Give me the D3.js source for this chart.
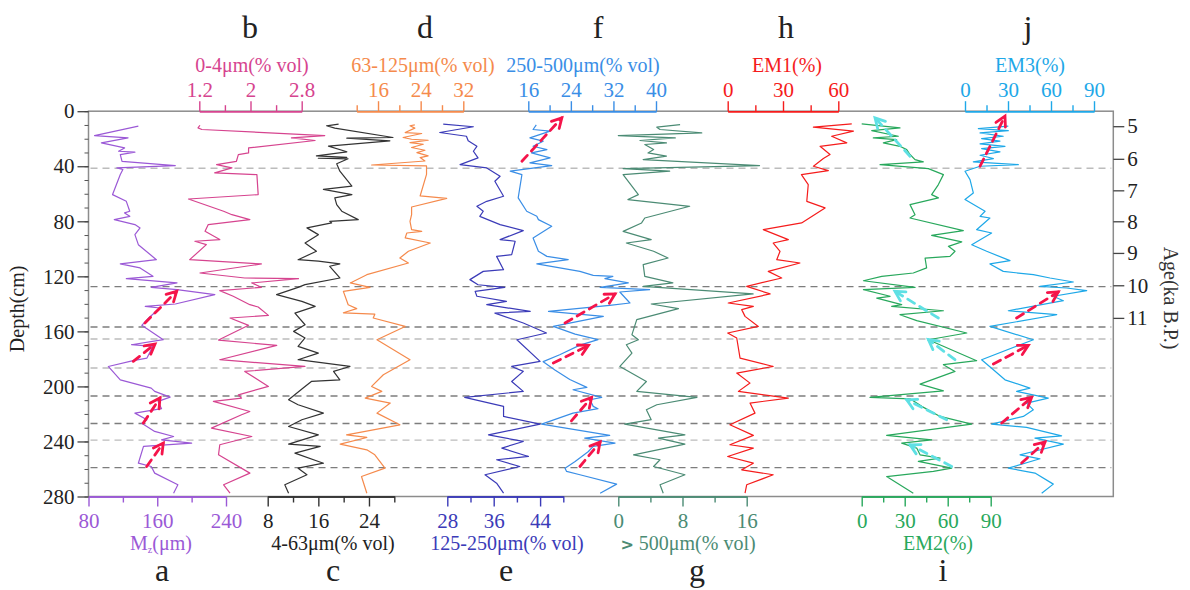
<!DOCTYPE html>
<html>
<head>
<meta charset="utf-8">
<script src="https://cdn.jsdelivr.net/npm/d3@7"></script>
<style>
  body { margin: 0; background: #fff; }
  text { font-family: "Liberation Serif", serif; }
</style>
</head>
<body>
<svg id="chart"></svg>
<script>
// depth axis / age axis
const depthTicks = [0, 40, 80, 120, 160, 200, 240, 280];
const depthMinor = d3.range(0, 281, 10);
const ageLabels = [5, 6, 7, 8, 9, 10, 11];
const ageDepths = [10.9, 34.6, 57.5, 80, 103, 126.5, 150.2];

// horizontal boundary lines (cm)
const boundaryDepths = [41.5, 127.5, 156.8, 165.5, 186.6, 207, 227, 239, 259];
const boundaryDark = [false, true, true, false, false, true, true, false, true];

// series as [depth(cm), value]
const mzData = [[10.9,138],[17.7,87],[19.4,126],[23,95],[26.7,122],[29.1,115],[29.8,134],[31.5,117],[36.4,119],[39.5,181],[41.2,113],[42.4,120],[46,117],[60.6,108],[65.5,124],[72.7,128],[73.9,122],[76.4,128],[78.8,110],[82.4,134],[84.8,140],[89.7,134],[97,138],[107.9,159],[111,117],[113.9,140],[120,155],[121.7,124],[124.8,183],[128,153],[129.7,183],[133.3,227],[140.1,181],[141.8,146],[143,163],[150.3,150],[155.6,142],[166,167],[169.7,130],[170.9,155],[179.4,148],[181.3,132],[185.5,103],[195.2,117],[201.2,153],[203.6,157],[207.8,175],[210.9,161],[216.2,165],[219.4,134],[224.2,148],[226.7,142],[232.7,157],[236.4,179],[238.8,165],[241.2,200],[243.6,144],[255.8,138],[258.2,153],[263,157],[271.5,184],[277.6,179]];

const clayData = [[10.2,1.21],[12.1,1.18],[13.3,1.24],[17.7,3.16],[19.4,2.64],[21.3,3.01],[26.7,1.97],[30.3,1.97],[31.5,1.81],[36.4,1.78],[38.8,1.47],[41.2,1.71],[44.8,1.44],[46.1,2.10],[60.6,2.12],[63.8,1.03],[72.7,1.58],[75.2,1.71],[78.8,1.99],[82.4,1.34],[87.3,1.29],[93.3,1.52],[94.5,1.13],[97,1.31],[107.9,1.05],[111,2.17],[117.6,1.21],[121.2,1.91],[121.7,2.75],[124.8,2.02],[128,2.17],[130.4,1.52],[134.5,1.73],[140.6,1.99],[142.3,2.12],[148.4,2.28],[150.3,1.68],[155.6,1.97],[166.3,1.50],[170.2,2.41],[180.6,1.52],[185.5,2.85],[189.1,1.91],[200,2.28],[206.1,1.81],[208.5,1.86],[210.9,1.42],[218.2,1.99],[220.6,1.86],[230.3,1.39],[236.4,2.02],[242.4,1.52],[249.7,1.50],[263,1.99],[271.5,1.58],[277.6,1.68]];

const siltData = [[9.4,19.2],[10.6,17.3],[12.3,18.6],[19.1,27.8],[19.6,20.5],[21.5,27.3],[25.4,17.6],[29.5,20.5],[32.5,15.7],[33.5,20.5],[34.2,16.0],[34.6,20.7],[38.2,18.9],[43.6,19.4],[54.4,21.3],[56.8,16.8],[60.6,21.3],[63,18.6],[67.9,18.9],[72.7,19.7],[78.8,22.3],[80,17.8],[81.2,18.1],[84.8,14.2],[89.7,16],[95.8,13.9],[101.8,15.7],[107.9,12.8],[109,16],[111,19.4],[112.7,17.8],[121.2,19.4],[126,13.9],[128,12.8],[133.3,9.4],[138.2,13.4],[141.8,15.5],[146.7,12.3],[155.2,13.9],[160,12.1],[164.8,13.9],[170.9,12.8],[175.8,16],[180.6,12.8],[185.5,21],[189.1,18.4],[195.2,19.4],[196.4,14.9],[201.2,13.6],[209.7,11.3],[213.3,12.8],[219.4,16.8],[224.2,13.4],[229.1,11.3],[235.2,16],[241.9,11.3],[243.6,16.3],[248.5,12.3],[255.8,16.8],[259.4,12.8],[264.2,14.2],[271.5,10.7],[277.6,11.3]];

const vfSandData = [[9.9,22.9],[10.6,22.0],[12.3,22.9],[15.5,21.1],[16.2,24.2],[19.1,20.7],[20.4,22.3],[21.1,25.4],[22.8,22.0],[24,24.5],[26.4,22.3],[28.4,24.8],[30.1,23.3],[32.5,25.4],[33.7,23.9],[36.2,24.8],[39.1,14.8],[39.8,25.1],[45.9,25.1],[61.6,23.9],[63.3,28.9],[69.6,22.3],[75.2,22.3],[80,22],[86.1,22.3],[87.3,24.2],[88.5,21.4],[92.1,21.1],[95.8,25.8],[101.8,21.7],[106.7,20.1],[110.3,21.7],[118.8,13.9],[124.8,10.8],[128,14.5],[130.9,9.5],[140.6,10.4],[143.5,12],[146.5,9.5],[147.5,15.4],[150.3,15.1],[156.4,21.1],[166.1,15.8],[180.6,22],[191.5,17],[200,14.8],[203.6,16.7],[208.5,13.6],[212.1,18.3],[219.4,15.8],[227.9,20.1],[235.2,10.1],[237.1,13.9],[241.9,8.9],[246.1,13.9],[249.7,15.4],[259.4,17.3],[265.5,12.9],[277.6,13.9]];

const fSandData = [[9.4,27.3],[11.3,32.5],[15.5,26.7],[18.2,31.3],[21.5,31.6],[25.5,33.1],[29.1,32.5],[33.9,33.3],[38.8,30.2],[41.2,34.8],[47.3,37.1],[50.9,36.2],[61.8,37.7],[65.5,34.8],[69.1,33.1],[72.7,34.2],[76.4,33.6],[82.4,37.1],[86.8,41.1],[93.3,37.1],[94.5,39.7],[104.2,39.1],[105.5,36.5],[115.2,37.7],[116.4,34.2],[122.4,31.9],[126.1,33.3],[128,37.9],[130.9,32.8],[134.5,33.1],[138.2,38.2],[140.6,34.8],[145.5,42.3],[146.7,36.2],[153.9,41.1],[161.2,45.1],[166.1,40],[181.8,44],[185.5,39.1],[189.1,41.1],[196.4,39.1],[203.6,41.1],[208,31],[214.5,37.7],[221.8,37.7],[227.4,44],[235.2,35.1],[240,41.1],[244.8,37.4],[250.9,42],[253.3,36.5],[258.2,40.5],[264.2,34.5],[270.3,36.5],[277.6,37.7]];

const mSandData = [[10,17.5],[13.3,16.9],[14.5,20.1],[19.4,16.3],[21.8,18.8],[25.5,16.9],[27.9,19.5],[30.3,16.6],[33.9,20.1],[37.6,16.3],[39.5,20.4],[43.6,12.6],[46.1,14.8],[63,14.1],[72.7,15.7],[76.4,17.6],[78.8,17.9],[83.6,20.4],[92.1,16.9],[101.8,17.9],[105.5,19.5],[107.9,23.5],[111,17.6],[116.4,25.7],[119.3,28.2],[120,31.9],[121.7,30.4],[124.8,34.8],[128,29.5],[129.7,38.8],[131.4,33.2],[139.4,35.1],[141.1,31.3],[145.5,19.8],[149.1,30.1],[156.4,20.7],[162,24.8],[166,29.1],[170,25.7],[177,21.9],[182,18.8],[188,21],[195,23.8],[200.7,27],[202.4,24.4],[208,29.8],[209.7,27.6],[214.5,28.2],[216.2,29.1],[219.4,24.4],[227.4,18.5],[235.6,31.3],[237.6,26.6],[241.2,32.3],[243.6,28.2],[247.3,27.3],[254.5,24.8],[259.4,22.9],[261.8,23.2],[264.2,25.7],[271,32.6],[277.6,29.5]];

const coarseData = [[9.7,7.7],[11.6,4.8],[13.3,5.2],[15.8,10.4],[17.7,0],[19.4,7.1],[21.3,2.7],[23,6],[24.2,3.3],[27.9,4.4],[30.3,3.7],[32.7,6],[35.2,3.1],[39.5,17.6],[41.7,0.6],[43.6,6.4],[46.1,0.6],[60.6,2.5],[64.2,1.2],[69.1,8.9],[77.6,3.3],[81.2,2.9],[87.3,0.6],[93.3,4.1],[95.8,1],[101.8,4.4],[106.7,6.2],[111.5,3.1],[120,3.3],[124.8,6.8],[127.3,3.1],[132.8,16.8],[140.1,4.1],[143.5,7.5],[151.5,2.3],[162.4,1.7],[166.1,2.5],[169.7,1],[175.8,1.7],[185.5,0.2],[196.4,3.5],[203.6,2.3],[208,9.8],[213.3,4.8],[217,3.5],[224.2,4.1],[227.4,0.8],[235.2,8.3],[237.6,5],[241.9,8.3],[249.7,1.9],[253.3,5.2],[258.2,4.4],[264.2,8.3],[271.5,5.2],[277.6,5.6]];

const em1Data = [[9.2,67.3],[11.6,46.5],[14.5,68.2],[18.2,56.4],[23,64.6],[25.5,50.1],[31.5,55.5],[34.4,51.9],[40,46.5],[43.2,54.6],[46.1,40],[53.3,43.7],[65.5,42.9],[70.3,52.8],[81.2,40.1],[86.1,19.3],[93.3,32.9],[95.8,24.7],[101.8,28.4],[107.9,26.6],[110.3,39.2],[116.4,22],[121.2,29.3],[127.3,10.3],[132.8,23],[139.4,0.3],[141.8,13.9],[144.2,7.6],[149.1,9.4],[156.4,16.6],[161.2,0],[164.8,4.9],[179.4,6.7],[185.5,24.7],[190.3,4.9],[197.6,12.1],[203.6,5.8],[208.5,32.9],[212.1,12.1],[219.4,14.8],[227.9,1.2],[235.6,13.9],[242.4,1.2],[244.8,13.9],[250.9,0],[255.8,13.9],[260.6,7.6],[264.2,24.7],[271.5,10.3],[277.6,9.4]];

const em2Data = [[9.2,0],[12.1,26.7],[14.1,7],[18.2,25.6],[19.4,8.1],[20.6,24.4],[23,15.1],[25.5,26.7],[27.9,31.4],[31.5,33.7],[35.2,37.2],[36.8,43],[38.8,12.8],[41.7,46.5],[46.1,57],[53.3,53.5],[60.6,48.8],[63,53.5],[67.9,33.7],[75.2,37.2],[77.6,33.7],[86.8,70.9],[90.2,48.8],[95,69.8],[98.2,60.5],[101.8,65.1],[105.5,61.6],[106.7,44.2],[113.9,45.3],[117.6,36],[120,14],[123.2,1.2],[128,37.2],[129.7,1.2],[134.5,19.8],[135.8,10.5],[140.6,27.9],[141.8,20.9],[145,57],[147.9,26.7],[152.2,38.4],[161.2,73.3],[166.1,46.5],[181.3,80.2],[184.2,57],[189.1,65.1],[198.3,40.7],[203.2,57],[208,5.8],[209,33.7],[214.5,41.9],[221.8,54.7],[227.4,76.7],[235.6,17.4],[238.8,48.8],[241.2,27.9],[244.8,38.4],[249.7,40.7],[252.1,54.7],[254.5,39.5],[259.4,62.8],[261.8,50],[265.5,17.4],[277.6,36]];

const em3Data = [[10.9,30.2],[12.6,9.3],[14.1,30.2],[15.8,10.5],[18.2,26.7],[19.9,11.6],[21.8,24.4],[23.8,10.5],[25.5,27.9],[27.2,11.6],[29.6,24.4],[32,10.5],[34.4,19.8],[36.8,5.8],[38.8,37.2],[40,10.5],[43.6,0],[49.7,3.5],[59.4,5.8],[64.2,0],[72.7,14],[76.4,10.5],[77.6,17.4],[86.1,8.1],[88.5,18.6],[97,4.7],[101.8,15.1],[108.6,31.4],[111,17.4],[116.4,26.7],[118.8,47.7],[121.2,59.3],[124.1,75.6],[127.3,52.3],[128.5,70.9],[130.4,84.9],[134.5,61.6],[137.7,68.6],[145,30.2],[147.9,64],[156.4,17.4],[166.1,47.7],[180.6,11.6],[187.9,19.8],[195.2,27.9],[201.2,45.3],[203.6,36],[208.5,58.1],[212.1,43],[217,47.7],[221.8,40.7],[227.4,18.6],[229.8,43],[235.9,67.4],[237.6,48.8],[241.9,68.6],[247.3,47.7],[249.7,38.4],[252.6,52.3],[259.4,30.2],[263,48.8],[271,61.6],[277.6,53.5]];

// tick values per panel (major = labelled, minor = short unlabelled)
const mzTicks = [80, 160, 240],      mzMinor = [120, 200];
const clayTicks = [1.2, 2, 2.8],     clayMinor = [1.6, 2.4];
const siltTicks = [8, 16, 24],       siltMinor = [12, 20, 28];
const vfTicks = [16, 24, 32],        vfMinor = [12, 20, 28];
const fTicks = [28, 36, 44],         fMinor = [32, 40, 48];
const mTicks = [16, 24, 32, 40],     mMinor = [20, 28, 36];
const coarseTicks = [0, 8, 16],      coarseMinor = [4, 12];
const em1Ticks = [0, 30, 60],        em1Minor = [15, 45];
const em2Ticks = [0, 30, 60, 90],    em2Minor = [15, 45, 75];
const em3Ticks = [0, 30, 60, 90],    em3Minor = [15, 45, 75];

// trend arrows: [panel, fromDepth, fromValue, toDepth, toValue]
const redArrows = [
  ['a', 153.9, 145.7, 130.9, 182.6], ['a', 181.8, 132.1, 169.2, 157.4],
  ['a', 226.6, 143.8, 208.4, 163.2], ['a', 258.2, 147.7, 241.2, 167],
  ['f', 36.4, 14.8, 4.8, 22.3], ['f', 153.9, 22.9, 132.8, 32.3],
  ['f', 183, 20.7, 170.2, 27.3], ['f', 225, 24.1, 208, 27.9],
  ['f', 258.2, 25.7, 240.4, 29.5],
  ['j', 40, 10.5, 3.6, 27.9], ['j', 150.3, 36, 131.3, 65.1],
  ['j', 183.7, 19.8, 170.2, 44.2], ['j', 226.6, 25.6, 208, 46.5],
  ['j', 255.7, 39.5, 240.4, 55.8]
];
const cyanArrows = [
  ['i', 32.7, 33.7, 4.8, 9.3], ['i', 150.3, 53.5, 130.9, 23.2],
  ['i', 180.6, 65.1, 166, 46.5], ['i', 224.2, 59.3, 209.7, 31.4],
  ['i', 258.2, 62.8, 242.4, 33.7]
];

const W = 1190, H = 590;
const plot = { left: 88.5, right: 1113.3, top: 111.2, bottom: 496.5 };
const serif = '"Liberation Serif", serif';

const panels = [
  { key: 'a', data: mzData, domain: [80, 240], range: [88.5, 226], side: 'bottom', major: mzTicks, minor: mzMinor, color: '#9b59d6', title: 'Mz', titleX: 161, letterX: 162 },
  { key: 'b', data: clayData, domain: [1.2, 2.8], range: [199.3, 301.7], side: 'top', major: clayTicks, minor: clayMinor, color: '#d6448f', title: '0-4μm(% vol)', titleX: 252, letterX: 250 },
  { key: 'c', data: siltData, domain: [8, 28], range: [267.7, 394.3], side: 'bottom', major: siltTicks, minor: siltMinor, color: '#333333', labelColor: '#222', title: '4-63μm(% vol)', titleX: 333, letterX: 333 },
  { key: 'd', data: vfSandData, domain: [12, 32], range: [356.7, 463.3], side: 'top', major: vfTicks, minor: vfMinor, color: '#f58a4c', title: '63-125μm(% vol)', titleX: 423, letterX: 425 },
  { key: 'e', data: fSandData, domain: [28, 48], range: [447.3, 563.3], side: 'bottom', major: fTicks, minor: fMinor, color: '#3b3bb8', title: '125-250μm(% vol)', titleX: 507, letterX: 506 },
  { key: 'f', data: mSandData, domain: [16, 40], range: [528.3, 656], side: 'top', major: mTicks, minor: mMinor, color: '#3a8ee6', title: '250-500μm(% vol)', titleX: 583, letterX: 598 },
  { key: 'g', data: coarseData, domain: [0, 16], range: [618.3, 746.7], side: 'bottom', major: coarseTicks, minor: coarseMinor, color: '#4b8b74', title: '> 500μm(% vol)', titleX: 688, letterX: 697 },
  { key: 'h', data: em1Data, domain: [0, 60], range: [727.7, 838.3], side: 'top', major: em1Ticks, minor: em1Minor, color: '#f51c1c', title: 'EM1(%)', titleX: 787, letterX: 786 },
  { key: 'i', data: em2Data, domain: [0, 90], range: [861.7, 990.7], side: 'bottom', major: em2Ticks, minor: em2Minor, color: '#28a85c', title: 'EM2(%)', titleX: 938, letterX: 943 },
  { key: 'j', data: em3Data, domain: [0, 90], range: [965, 1094], side: 'top', major: em3Ticks, minor: em3Minor, color: '#1ea8e8', title: 'EM3(%)', titleX: 1030, letterX: 1028 }
];
panels.forEach(p => { p.x = d3.scaleLinear().domain(p.domain).range(p.range); });
const panelByKey = Object.fromEntries(panels.map(p => [p.key, p]));

const svg = d3.select('#chart').attr('width', W).attr('height', H);
svg.append('rect').attr('width', W).attr('height', H).attr('fill', '#fff');

const y = d3.scaleLinear().domain([0, 280]).range([plot.top, plot.bottom]);

// frame
svg.append('rect')
  .attr('x', plot.left).attr('y', plot.top)
  .attr('width', plot.right - plot.left).attr('height', plot.bottom - plot.top)
  .attr('fill', 'none').attr('stroke', '#8c8c8c').attr('stroke-width', 1.5);

// boundary lines
svg.append('g').selectAll('line')
  .data(boundaryDepths)
  .join('line')
  .attr('x1', plot.left + 2).attr('x2', plot.right - 2)
  .attr('y1', d => y(d)).attr('y2', d => y(d))
  .attr('stroke', (d, i) => boundaryDark[i] ? '#7d7d7d' : '#bcbcbc')
  .attr('stroke-width', 1.4)
  .attr('stroke-dasharray', '7,5');

// curves
const line = d3.line();
panels.forEach(p => {
  svg.append('path')
    .datum(p.data)
    .attr('fill', 'none')
    .attr('stroke', p.color)
    .attr('stroke-width', 1.2)
    .attr('stroke-linejoin', 'round')
    .attr('d', line.x(d => p.x(d[1])).y(d => y(d[0])));
});

// trend arrows
function drawArrows(list, color) {
  const g = svg.append('g').attr('stroke', color).attr('fill', 'none')
    .attr('stroke-width', 2.8).attr('stroke-linecap', 'round');
  list.forEach(([k, d1, v1, d2, v2]) => {
    const p = panelByKey[k];
    const x1 = p.x(v1), y1 = y(d1), x2 = p.x(v2), y2 = y(d2);
    g.append('line').attr('x1', x1).attr('y1', y1).attr('x2', x2).attr('y2', y2)
      .attr('stroke-dasharray', '8,6');
    const a = Math.atan2(y2 - y1, x2 - x1), L = 11;
    const h1 = [x2 - L * Math.cos(a - 0.5), y2 - L * Math.sin(a - 0.5)];
    const h2 = [x2 - L * Math.cos(a + 0.5), y2 - L * Math.sin(a + 0.5)];
    g.append('path').attr('d', `M${h1[0]},${h1[1]}L${x2},${y2}L${h2[0]},${h2[1]}`)
      .attr('stroke-linejoin', 'miter');
  });
}
drawArrows(cyanArrows, '#5fe0e4');
drawArrows(redArrows, '#f5144a');

// panel axes
function styleAxis(g, color, labelColor) {
  g.attr('font-family', serif).attr('font-size', 21);
  g.select('.domain').attr('stroke', color).attr('stroke-width', 1.6);
  g.selectAll('.tick line').attr('stroke', color).attr('stroke-width', 1.4);
  g.selectAll('.tick text').attr('fill', labelColor || color).attr('font-family', serif);
}
panels.forEach(p => {
  const top = p.side === 'top';
  const ypos = top ? plot.top : plot.bottom;
  const mk = top ? d3.axisTop : d3.axisBottom;
  const gMinor = svg.append('g').attr('transform', `translate(0,${ypos})`)
    .call(mk(p.x).tickValues(p.minor).tickSize(6).tickSizeOuter(0).tickFormat(''));
  styleAxis(gMinor, p.color);
  const gMajor = svg.append('g').attr('transform', `translate(0,${ypos})`)
    .call(mk(p.x).tickValues(p.major).tickSize(10).tickSizeOuter(0)
      .tickPadding(top ? 4 : 7).tickFormat(d => String(d)));
  styleAxis(gMajor, p.color, p.labelColor);

  const title = svg.append('text')
    .attr('x', p.titleX).attr('y', top ? 72 : 550)
    .attr('text-anchor', 'middle').attr('font-size', 20).attr('font-family', serif)
    .attr('fill', p.labelColor || p.color);
  if (p.key === 'a') {
    title.append('tspan').text('M');
    title.append('tspan').attr('font-size', 10).attr('dy', 3).text('z');
    title.append('tspan').attr('dy', -3).text('(μm)');
  } else if (p.key === 'g') {
    title.append('tspan').attr('font-family', 'DejaVu Sans').attr('font-weight', 'bold').attr('font-size', 16).text('>');
    title.append('tspan').text(' 500μm(% vol)');
  } else {
    title.text(p.title);
  }

  svg.append('text')
    .attr('x', p.letterX).attr('y', top ? 38 : 581)
    .attr('text-anchor', 'middle').attr('font-size', 32).attr('font-family', serif)
    .attr('fill', '#222').text(p.key);
});

// depth axis
const gDepthMinor = svg.append('g').attr('transform', `translate(${plot.left},0)`)
  .call(d3.axisLeft(y).tickValues(depthMinor).tickSize(4).tickSizeOuter(0).tickFormat(''));
gDepthMinor.select('.domain').remove();
gDepthMinor.selectAll('.tick line').attr('stroke', '#555');
const gDepth = svg.append('g').attr('transform', `translate(${plot.left},0)`)
  .call(d3.axisLeft(y).tickValues(depthTicks).tickSize(11).tickSizeOuter(0).tickPadding(3));
gDepth.select('.domain').remove();
gDepth.attr('font-family', serif).attr('font-size', 21);
gDepth.selectAll('.tick line').attr('stroke', '#444').attr('stroke-width', 1.3);
gDepth.selectAll('.tick text').attr('fill', '#222').attr('font-family', serif);

svg.append('text')
  .attr('transform', `translate(24,${(plot.top + plot.bottom) / 2 + 5}) rotate(-90)`)
  .attr('text-anchor', 'middle').attr('font-size', 20).attr('font-family', serif).attr('fill', '#222')
  .text('Depth(cm)');

// age axis (age -> depth through the age model)
const ageScale = d3.scaleLinear().domain(ageLabels).range(ageDepths.map(d => y(d)));
const gAge = svg.append('g').attr('transform', `translate(${plot.right},0)`)
  .call(d3.axisRight(ageScale).tickValues(ageLabels).tickSize(11).tickSizeOuter(0)
    .tickPadding(3).tickFormat(d3.format('d')));
gAge.select('.domain').remove();
gAge.attr('font-family', serif).attr('font-size', 21);
gAge.selectAll('.tick line').attr('stroke', '#444').attr('stroke-width', 1.3);
gAge.selectAll('.tick text').attr('fill', '#222').attr('font-family', serif);

svg.append('text')
  .attr('transform', `translate(1164,298) rotate(90)`)
  .attr('text-anchor', 'middle').attr('font-size', 20).attr('font-family', serif).attr('fill', '#333')
  .text('Age(ka B.P.)');
</script>
</body>
</html>
